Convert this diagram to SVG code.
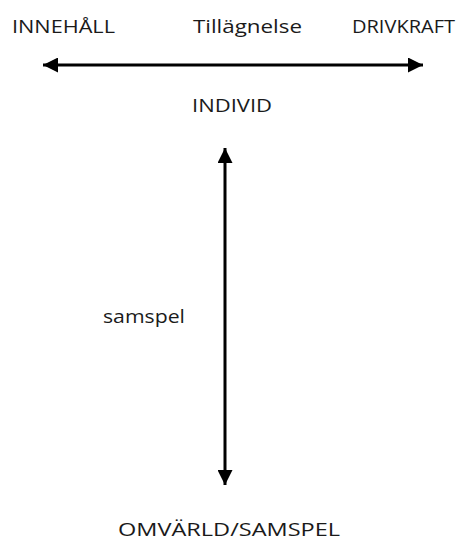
<svg xmlns="http://www.w3.org/2000/svg" width="470" height="542" viewBox="0 0 470 542">
<style>
text{font-family:"Open Sans","Liberation Sans",sans-serif;font-size:19px;fill:#1a1a1a}
.c{stroke:#000;stroke-width:3;fill:none}
</style>
<defs>
<marker id="ah" markerWidth="6" markerHeight="5" refX="5" refY="2.5" orient="auto-start-reverse" markerUnits="strokeWidth">
<path d="M0,0 L5,2.5 L0,5 Z" fill="#000"/>
</marker>
</defs>
<rect width="470" height="542" fill="#fff"/>
<g id="connectors">
<line class="c" x1="43" y1="65" x2="423" y2="65" marker-start="url(#ah)" marker-end="url(#ah)"/>
<line class="c" x1="225" y1="148" x2="225" y2="485" marker-start="url(#ah)" marker-end="url(#ah)"/>
</g>
<g id="innehall"><text x="12" y="33" textLength="103" lengthAdjust="spacingAndGlyphs">INNEHÅLL</text></g>
<g id="tillagnelse"><text x="193" y="33" textLength="109" lengthAdjust="spacingAndGlyphs">Tillägnelse</text></g>
<g id="drivkraft"><text x="352" y="33" textLength="103" lengthAdjust="spacingAndGlyphs">DRIVKRAFT</text></g>
<g id="individ"><text x="192" y="112" textLength="80" lengthAdjust="spacingAndGlyphs">INDIVID</text></g>
<g id="samspel"><text x="103" y="323" textLength="82" lengthAdjust="spacingAndGlyphs">samspel</text></g>
<g id="omvarld"><text x="118" y="536" textLength="222" lengthAdjust="spacingAndGlyphs">OMVÄRLD/SAMSPEL</text></g>
</svg>
